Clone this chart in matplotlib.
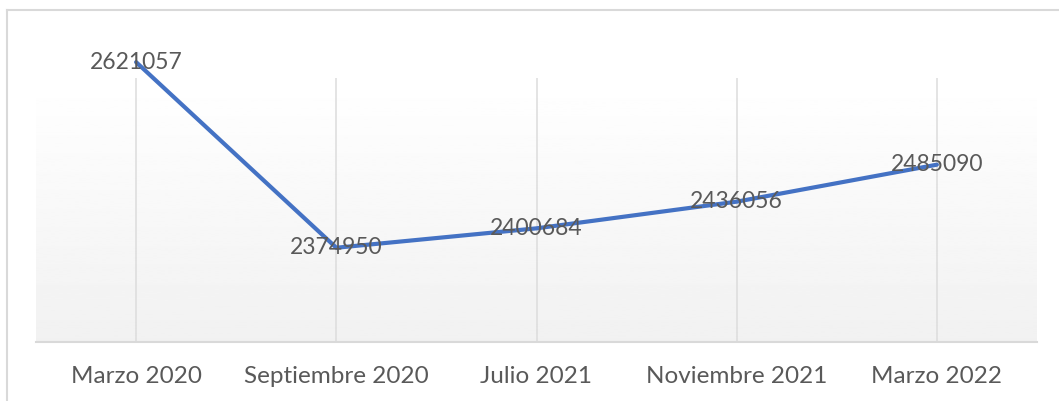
import numpy as np
import matplotlib
matplotlib.use("Agg")
import matplotlib.pyplot as plt
from matplotlib.lines import Line2D

# Data
periodos = ["Marzo 2020", "Septiembre 2020", "Julio 2021", "Noviembre 2021", "Marzo 2022"]
valores = [2621057, 2374950, 2400684, 2436056, 2485090]

plt.rcParams['font.family'] = ['Lato', 'DejaVu Sans']

fig = plt.figure(figsize=(10.59, 4.01), dpi=100)
W, H = 1059, 401
ax = fig.add_axes([36 / W, (H - 342) / H, (1037 - 36) / W, (342 - 78) / H])

x = np.arange(len(periodos))
ax.set_xlim(-0.5, len(periodos) - 0.5)
ax.set_ylim(2250000, 2600000)

# gradient background (white at top, light gray at bottom)
grad = np.linspace(1.0, 0.945, 100).reshape(-1, 1)
ax.imshow(grad, cmap='gray', vmin=0, vmax=1, aspect='auto',
          extent=[-0.5, len(periodos) - 0.5, 2250000, 2600000], origin='upper', zorder=0)

for xi in x:
    ax.axvline(xi, color='#dcdcdc', lw=1.1, zorder=1)

ax.plot(x, valores, color='#4472C4', lw=3, zorder=3, clip_on=False, solid_capstyle='round')

for xi, v in zip(x, valores):
    ax.text(xi, v, str(v), ha='center', va='center', fontsize=16.5, color='#595959',
            zorder=4, clip_on=False)

ax.set_xticks(x)
ax.set_xticklabels(periodos, fontsize=17.5, color='#595959')
ax.tick_params(axis='x', length=0, pad=17)
ax.set_yticks([])
for s in ['top', 'left', 'right']:
    ax.spines[s].set_visible(False)
ax.spines['bottom'].set_color('#d9d9d9')
ax.spines['bottom'].set_linewidth(1.5)

# chart border (only top and left visible)
fig.add_artist(Line2D([7 / W, 1.0], [(H - 10) / H, (H - 10) / H], color='#d9d9d9', lw=1.5))
fig.add_artist(Line2D([7 / W, 7 / W], [0, (H - 10) / H], color='#d9d9d9', lw=1.5))

fig.savefig("out.png", dpi=100)
